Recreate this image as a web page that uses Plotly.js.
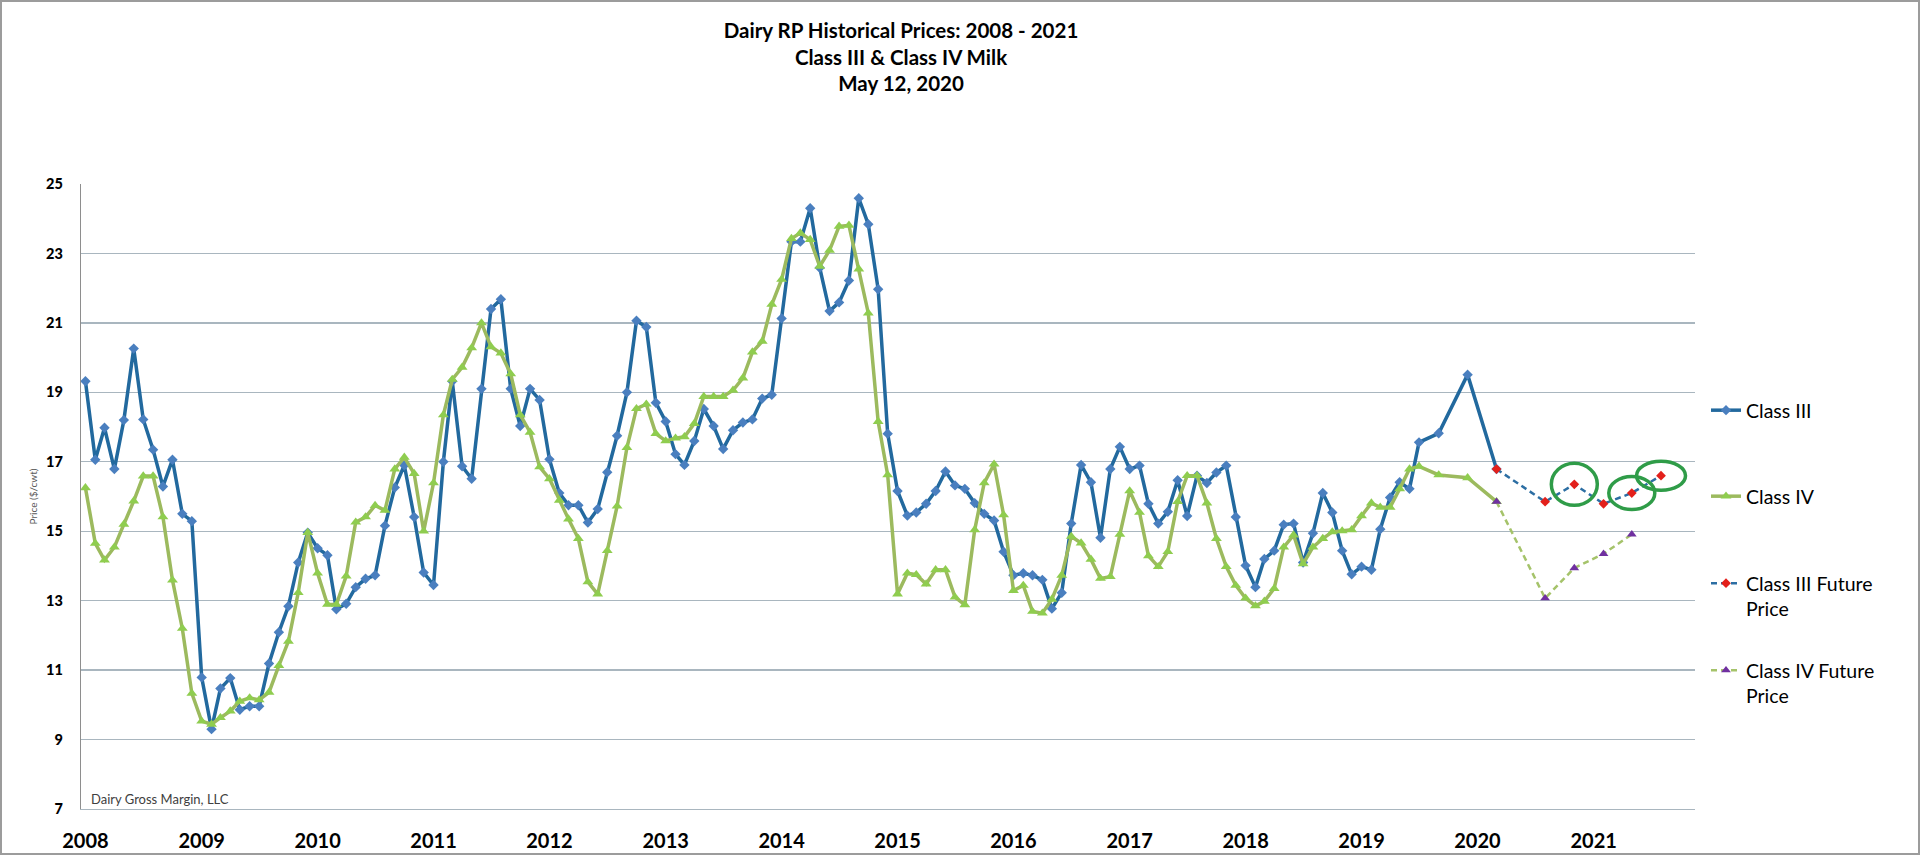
<!DOCTYPE html>
<html>
<head>
<meta charset="utf-8">
<title>Dairy RP Historical Prices</title>
<script src="https://cdn.plot.ly/plotly-3.0.1.min.js"></script>
<style>
  html, body { margin: 0; padding: 0; background: #ffffff; }
  #wrap { position: relative; width: 1920px; height: 855px; }
  #chart { width: 1920px; height: 855px; }
  /* thin grey frame round the whole picture, like the exported Excel chart */
  #frame {
    position: absolute; left: 0; top: 0; width: 1920px; height: 855px;
    box-sizing: border-box; border: 2px solid #9c9c9c; pointer-events: none;
  }
</style>
</head>
<body>
<div id="wrap">
  <div id="chart"></div>
  <div id="frame"></div>
</div>
<script>
// Monthly settlement prices ($/cwt), Jan 2008 .. Jul 2019, one row per year
const classIII = [
  19.32, 17.06, 17.98, 16.79, 18.20, 20.26, 18.22, 17.35, 16.29, 17.06, 15.50, 15.29,
  10.79,  9.30, 10.47, 10.77,  9.86,  9.96,  9.96, 11.19, 12.09, 12.84, 14.10, 14.96,
  14.51, 14.31, 12.75, 12.91, 13.39, 13.63, 13.73, 15.16, 16.26, 16.90, 15.41, 13.81,
  13.45, 17.00, 19.32, 16.87, 16.51, 19.10, 21.40, 21.68, 19.10, 18.03, 19.10, 18.78,
  17.07, 16.10, 15.75, 15.75, 15.25, 15.64, 16.70, 17.75, 19.00, 21.06, 20.88, 18.70,
  18.16, 17.22, 16.91, 17.60, 18.52, 18.03, 17.37, 17.91, 18.13, 18.22, 18.82, 18.93,
  21.13, 23.34, 23.34, 24.30, 22.59, 21.34, 21.59, 22.22, 24.59, 23.84, 21.97, 17.81,
  16.16, 15.45, 15.54, 15.79, 16.16, 16.72, 16.32, 16.22, 15.81, 15.50, 15.31, 14.41,
  13.73, 13.79, 13.73, 13.60, 12.77, 13.23, 15.22, 16.91, 16.41, 14.81, 16.79, 17.43,
  16.79, 16.89, 15.79, 15.22, 15.56, 16.47, 15.44, 16.60, 16.39, 16.69, 16.89, 15.41,
  14.01, 13.39, 14.20, 14.44, 15.19, 15.22, 14.10, 14.94, 16.10, 15.54, 14.44, 13.76,
  13.98, 13.89, 15.06, 15.97, 16.41, 16.22, 17.56
];

const classIV = [
  16.25, 14.65, 14.17, 14.54, 15.20, 15.87, 16.59, 16.59, 15.41, 13.59, 12.20, 10.33,
   9.53,  9.44,  9.63,  9.82, 10.10, 10.20, 10.14, 10.36, 11.13, 11.83, 13.23, 14.96,
  13.79, 12.89, 12.89, 13.71, 15.26, 15.41, 15.74, 15.60, 16.79, 17.13, 16.66, 15.00,
  16.39, 18.35, 19.37, 19.72, 20.28, 21.00, 20.31, 20.13, 19.53, 18.35, 17.85, 16.85,
  16.51, 15.89, 15.35, 14.79, 13.54, 13.19, 14.44, 15.72, 17.41, 18.53, 18.66, 17.81,
  17.60, 17.68, 17.72, 18.10, 18.88, 18.88, 18.88, 19.06, 19.41, 20.16, 20.47, 21.53,
  22.25, 23.43, 23.59, 23.40, 22.63, 23.09, 23.78, 23.81, 22.55, 21.28, 18.16, 16.62,
  13.19, 13.79, 13.75, 13.48, 13.89, 13.89, 13.10, 12.88, 15.04, 16.39, 16.93, 15.47,
  13.29, 13.44, 12.69, 12.64, 13.04, 13.73, 14.85, 14.66, 14.19, 13.64, 13.69, 14.91,
  16.16, 15.54, 14.29, 13.98, 14.41, 15.85, 16.60, 16.60, 15.81, 14.79, 13.98, 13.44,
  13.07, 12.85, 12.98, 13.35, 14.54, 14.89, 14.06, 14.54, 14.79, 14.98, 15.01, 15.04,
  15.44, 15.81, 15.69, 15.69, 16.22, 16.79, 16.87
];

// after Jul 2019 the sheet only has a few scattered months
const lateDates = ['2019-09-01', '2019-12-01', '2020-03-01'];
const classIIILate = [17.82, 19.51, 16.79];
const classIVLate = [16.62, 16.54, 15.85];

// futures, starting from the last actual month
const futureDates = ['2020-03-01', '2020-08-01', '2020-11-01', '2021-02-01', '2021-05-01', '2021-08-01'];
const classIIIFuture = [16.79, 15.85, 16.35, 15.79, 16.10, 16.60];
const classIVFuture = [15.85, 13.07, 13.94, 14.35, 14.91];

const yearTicks = ['2008', '2009', '2010', '2011', '2012', '2013', '2014',
                   '2015', '2016', '2017', '2018', '2019', '2020', '2021'];

// the green rings someone drew round some of the Class III futures
const ringIdx = [2, 4, 5];
const ringSize = [[46, 42], [46, 33], [49, 29]];

const FONT = 'Lato, "Open Sans", "DejaVu Sans", sans-serif';

// Jan 2008 + n months, as 'YYYY-MM-01'
const monthDates = (count) => {
  const out = [];
  for (let i = 0; i < count; i++) {
    const y = 2008 + Math.floor(i / 12);
    const m = String((i % 12) + 1).padStart(2, '0');
    out.push(`${y}-${m}-01`);
  }
  return out;
};

const histDates = monthDates(classIII.length).concat(lateDates);

// plot box in pixels
const M = { l: 81, r: 225, t: 184, b: 46 };
const W = 1920, H = 855;
const plotW = W - M.l - M.r;
const plotH = H - M.t - M.b;

// legend rows: y of first text line, in page pixels
const legendRows = [410, 496, 583, 670];
const legendY = (px) => (H - M.b - (px - 19)) / plotH;

const traces = [
  {
    name: 'Class III',
    x: histDates,
    y: classIII.concat(classIIILate),
    type: 'scatter',
    mode: 'lines+markers',
    line: { color: '#22699e', width: 3.5 },
    marker: { symbol: 'diamond', size: 8, color: '#4a7fbf' },
    legend: 'legend'
  },
  {
    name: 'Class IV',
    x: histDates,
    y: classIV.concat(classIVLate),
    type: 'scatter',
    mode: 'lines+markers',
    line: { color: '#9cba5e', width: 3.5 },
    marker: { symbol: 'triangle-up', size: 9.5, color: '#8fcd4f' },
    legend: 'legend2'
  },
  {
    name: 'Class III Future<br>Price',
    x: futureDates,
    y: classIIIFuture,
    type: 'scatter',
    mode: 'lines+markers',
    line: { color: '#2c6ea3', width: 2.5, dash: '6px,4px' },
    marker: { symbol: 'diamond', size: 7.5, color: '#e3201b' },
    legend: 'legend3'
  },
  {
    name: 'Class IV Future<br>Price',
    x: futureDates.slice(0, classIVFuture.length),
    y: classIVFuture,
    type: 'scatter',
    mode: 'lines+markers',
    line: { color: '#a5c36a', width: 2.5, dash: '6px,4px' },
    marker: { symbol: 'triangle-up', size: 8.5, color: '#7030a0' },
    legend: 'legend4'
  }
];

const legendBox = (row) => ({
  x: 1 + 11 / plotW,
  xanchor: 'left',
  y: legendY(legendRows[row]),
  yanchor: 'top',
  valign: 'top',
  bgcolor: 'rgba(0,0,0,0)',
  borderwidth: 0,
  font: { family: FONT, size: 19.5, color: '#000000' }
});

const rings = ringIdx.map((idx, k) => ({
  type: 'circle',
  xref: 'x',
  yref: 'y',
  xsizemode: 'pixel',
  ysizemode: 'pixel',
  xanchor: futureDates[idx],
  yanchor: classIIIFuture[idx],
  x0: -ringSize[k][0] / 2,
  x1: ringSize[k][0] / 2,
  y0: -ringSize[k][1] / 2,
  y1: ringSize[k][1] / 2,
  line: { color: '#2f9c48', width: 3.5 }
}));

const layout = {
  width: W,
  height: H,
  margin: M,
  paper_bgcolor: '#ffffff',
  plot_bgcolor: '#ffffff',
  font: { family: FONT, color: '#000000' },
  showlegend: true,
  title: {
    text: 'Dairy RP Historical Prices: 2008 - 2021<br>Class III & Class IV Milk<br>May 12, 2020',
    x: 901 / W,
    xanchor: 'center',
    y: 1 - 38 / H,
    yanchor: 'top',
    font: { family: FONT, size: 20.5, weight: 700, color: '#000000' }
  },
  xaxis: {
    type: 'date',
    range: ['2007-12-18', '2021-11-16'],
    tickmode: 'array',
    tickvals: yearTicks.map(y => `${y}-01-01`),
    ticktext: yearTicks,
    showgrid: false,
    zeroline: false,
    showline: true,
    linecolor: '#a9b6bf',
    linewidth: 1.3,
    ticks: '',
    ticklabelstandoff: 14,
    tickfont: { family: FONT, size: 20, weight: 700, color: '#000000' }
  },
  yaxis: {
    range: [7, 25],
    tick0: 7,
    dtick: 2,
    showgrid: true,
    gridcolor: '#a9b6bf',
    gridwidth: 1.3,
    zeroline: false,
    showline: true,
    linecolor: '#8e8e8e',
    linewidth: 1.3,
    ticks: '',
    ticklabelstandoff: 14,
    tickfont: { family: FONT, size: 14.5, weight: 900, color: '#000000' },
    title: {
      text: 'Price ($/cwt)',
      standoff: 6,
      font: { family: FONT, size: 10, color: '#595959' }
    }
  },
  legend: legendBox(0),
  legend2: legendBox(1),
  legend3: legendBox(2),
  legend4: legendBox(3),
  shapes: rings,
  annotations: [
    {
      text: 'Dairy Gross Margin, LLC',
      xref: 'paper',
      yref: 'paper',
      x: 0.005,
      y: 0.016,
      xanchor: 'left',
      yanchor: 'middle',
      showarrow: false,
      font: { family: FONT, size: 13, color: '#404040' }
    }
  ]
};

Plotly.newPlot('chart', traces, layout, { staticPlot: true, displayModeBar: false });
</script>
</body>
</html>
